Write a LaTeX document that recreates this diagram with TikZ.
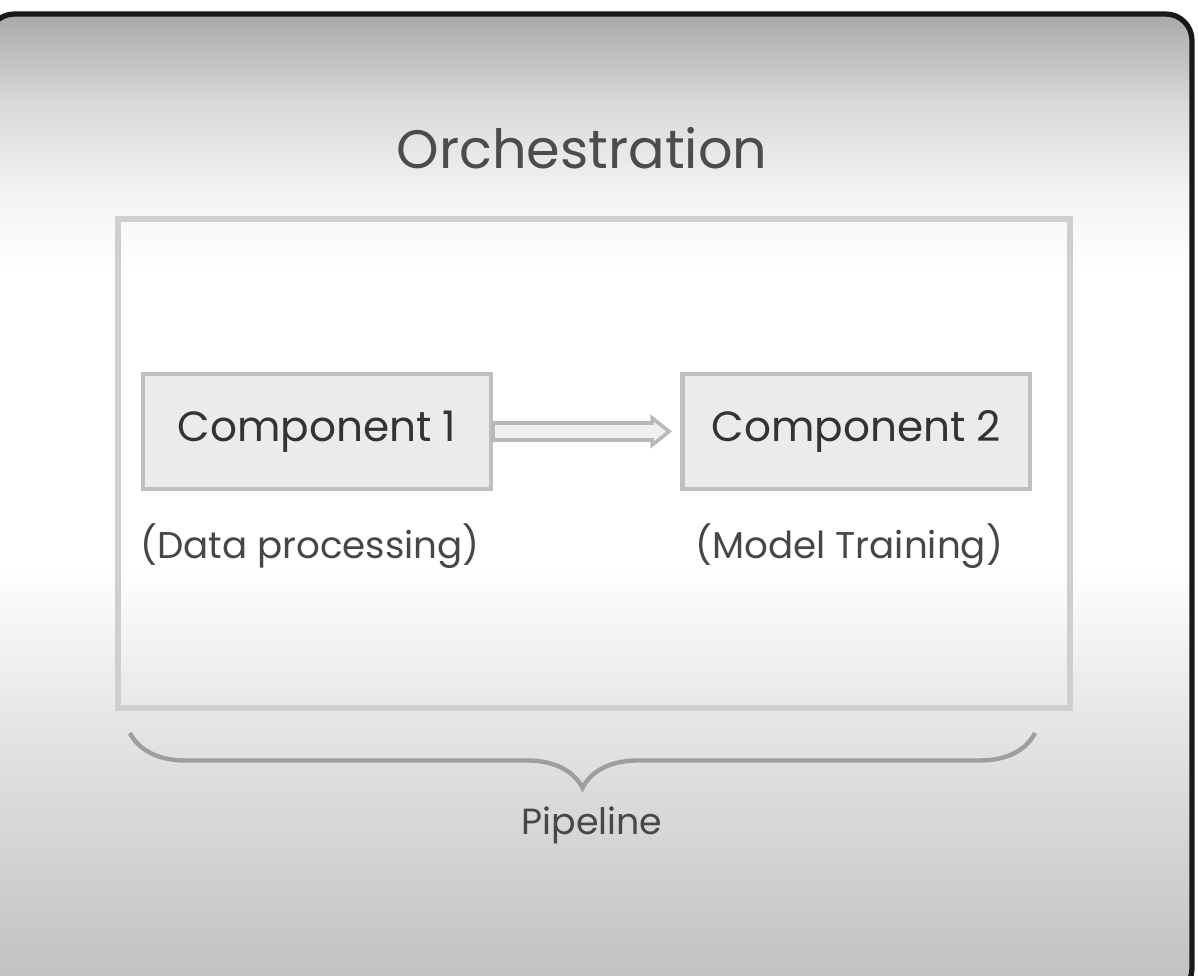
\documentclass[tikz,border=0pt]{standalone}
\usepackage{fontspec}
\setmainfont{Poppins}
\usetikzlibrary{calc}
\usetikzlibrary{positioning}
\usetikzlibrary{decorations.pathreplacing}
\colorlet{boxline}{black!25}
\colorlet{boxfill}{black!8}
\colorlet{txtgray}{black!72}

% background of the slide
\pgfdeclareverticalshading{slidebg}{100bp}{color(0bp)=(black!25); color(25bp)=(black!25);
  color(38bp)=(black!11); color(47bp)=(white); color(62bp)=(white); color(66bp)=(black!5);
  color(70.5bp)=(black!15); color(75bp)=(black!34); color(100bp)=(black!34)}

\tikzset{
  comp/.style={draw=boxline, fill=boxfill, line width=2.5, minimum width=6.96cm,
    minimum height=2.3cm, inner sep=0, font=\fontsize{24}{28}\selectfont, text=black!80},
  note/.style={font=\fontsize{21.2}{25}\selectfont, text=txtgray},
  flow/.style={draw=black!28, fill=black!6, line width=2, line join=miter},
}

\begin{document}
\begin{tikzpicture}[x=0.02cm, y=0.02cm]

\useasboundingbox (0,0) rectangle (1198,975);

% 幻灯片背景
\begin{scope}
\clip (0,0) rectangle (1198,975);
\shade[shading=slidebg, rounded corners=15] (-12,-20) rectangle (1192,961);
\draw[black!90, line width=3, rounded corners=15] (-12,-20) rectangle (1192,961);
\end{scope}

\coordinate (PT) at (582, 827);
\coordinate (C1) at (317, 543.5);
\coordinate (BL) at (130, 242);
\coordinate (BR) at (1035, 242);

\node[font=\fontsize{30.8}{36}\selectfont, text=black!70] (title) at (PT) {Orchestration};

\node[draw=black!19, line width=3, minimum width=19.04cm, minimum height=9.78cm] (pipe) at (594, 511.5) {};

\node[comp] (c1) at (C1) {Component 1};
\node[comp, right=3.74cm of c1] (c2) {Component 2};

\node[note] (dlabel) at ($(c1.south)+(-7,-55)$) {(Data processing)};
\node[note] (mlabel) at ($(c2.south)+(-7,-55)$) {(Model Training)};

% 空心箭头
\draw[flow] ($(c1.east)+(0,8.5)$) -- ($(c2.west)+(-28,8.5)$) -- ($(c2.west)+(-28,13.5)$)
  -- ($(c2.west)+(-11,0)$) -- ($(c2.west)+(-28,-13.5)$) -- ($(c2.west)+(-28,-8.5)$)
  -- ($(c1.east)+(0,-8.5)$) -- cycle;

\draw[black!38, line width=2.5, decorate, decoration={brace, mirror, amplitude=1.1cm}] (BL) -- (BR);

\node[font=\fontsize{20.7}{24}\selectfont, text=txtgray] (pipelabel) at (592, 150) {Pipeline};

\end{tikzpicture}
\end{document}
